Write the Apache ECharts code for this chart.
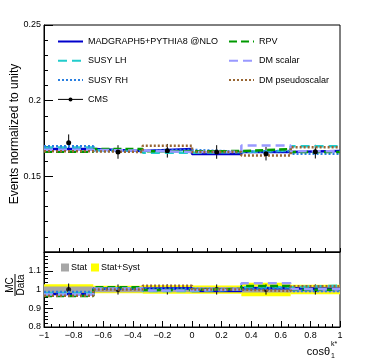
<!DOCTYPE html>
<html><head><meta charset="utf-8">
<script src="https://cdn.jsdelivr.net/npm/echarts@6/dist/echarts.min.js"></script>
<style>html,body{margin:0;padding:0;background:#fff}#c{width:370px;height:360px}</style>
</head><body><div id="c"></div>
<script>
// ---- data ----
const binEdges = [-1, -2/3, -1/3, 0, 1/3, 2/3, 1];
const binCenters = [-5/6, -0.5, -1/6, 1/6, 0.5, 5/6];
const cmsValues = [0.1722, 0.1661, 0.1669, 0.1661, 0.1650, 0.1663];
const cmsErrors = [0.0055, 0.0045, 0.0045, 0.0045, 0.0045, 0.0045];
const madgraph = [0.1680, 0.1668, 0.1680, 0.1647, 0.1661, 0.1668];
const susyLH = [0.1690, 0.1672, 0.1656, 0.1660, 0.1670, 0.1698];
const susyRH = [0.1698, 0.1668, 0.1675, 0.1662, 0.1668, 0.1649];
const rpv = [0.1663, 0.1680, 0.1665, 0.1667, 0.1680, 0.1660];
const dmScalar = [0.1675, 0.1670, 0.1660, 0.1662, 0.1704, 0.1665];
const dmPseudo = [0.1665, 0.1661, 0.1702, 0.1660, 0.1637, 0.1692];
const statBand = [0.016, 0.014, 0.014, 0.013, 0.016, 0.015];
const statSystBand = [0.028, 0.020, 0.023, 0.022, 0.036, 0.025];
const mcNames = ['MADGRAPH5+PYTHIA8 @NLO', 'SUSY LH', 'SUSY RH', 'RPV', 'DM scalar', 'DM pseudoscalar'];

// ---- styles ----
const mcDefs = [
  {name: mcNames[0], vals: madgraph, color: '#0000cc', type: 'solid', width: 2.5},
  {name: mcNames[1], vals: susyLH, color: '#22cccc', type: [9, 5], width: 2.5},
  {name: mcNames[2], vals: susyRH, color: '#2a7fe0', type: [2, 2], width: 2.5},
  {name: mcNames[3], vals: rpv, color: '#009900', type: [8, 4], width: 2.5},
  {name: mcNames[4], vals: dmScalar, color: '#9999ff', type: [9, 5], width: 2.5},
  {name: mcNames[5], vals: dmPseudo, color: '#996633', type: [2, 2], width: 2.5}
];
const FONT = 'Liberation Sans, Arial, Helvetica, sans-serif';

function stepData(vals) {
  return vals.map((v, i) => [binEdges[i], v]).concat([[binEdges[6], vals[vals.length - 1]]]);
}

const series = [];
function bandSeries(name, band, color) {
  return {
    name: name, type: 'custom', xAxisIndex: 1, yAxisIndex: 1,
    itemStyle: {color: color},
    data: band.map((b, i) => [binCenters[i], b, i]),
    renderItem: function (params, api) {
      const i = api.value(2), b = api.value(1);
      const p0 = api.coord([binEdges[i], 1 + b]);
      const p1 = api.coord([binEdges[i + 1], 1 - b]);
      return {type: 'rect', shape: {x: p0[0], y: p0[1], width: p1[0] - p0[0], height: p1[1] - p0[1]},
        style: {fill: color}};
    }
  };
}
series.push(bandSeries('Stat+Syst', statSystBand, '#ffff00'));
series.push(bandSeries('Stat', statBand, '#a6a6a6'));

mcDefs.forEach(d => {
  series.push({
    name: d.name, type: 'line', step: 'end', xAxisIndex: 0, yAxisIndex: 0,
    symbol: 'none', color: d.color,
    lineStyle: {color: d.color, type: d.type, width: d.width},
    data: stepData(d.vals), silent: true
  });
  series.push({
    name: 'ratio ' + d.name, type: 'line', step: 'end', xAxisIndex: 1, yAxisIndex: 1,
    symbol: 'none', color: d.color,
    lineStyle: {color: d.color, type: d.type, width: d.width},
    data: stepData(d.vals.map((v, i) => v / cmsValues[i])), silent: true
  });
});

function errSeries(xi, yi, vals, errs) {
  return {
    name: 'err' + xi, type: 'custom', xAxisIndex: xi, yAxisIndex: yi, silent: true,
    data: vals.map((v, i) => [binCenters[i], v, errs[i]]),
    renderItem: function (params, api) {
      const x = api.value(0), y = api.value(1), e = api.value(2);
      const a = api.coord([x, y - e]), b = api.coord([x, y + e]);
      return {type: 'line', shape: {x1: a[0], y1: a[1], x2: b[0], y2: b[1]}, style: {stroke: '#000', lineWidth: 1}};
    }
  };
}
series.push(errSeries(0, 0, cmsValues, cmsErrors));
series.push({
  name: 'CMS', type: 'line', xAxisIndex: 0, yAxisIndex: 0,
  symbol: 'circle', symbolSize: 5, color: '#000',
  itemStyle: {color: '#000'},
  lineStyle: {width: 0, opacity: 0},
  data: cmsValues.map((v, i) => [binCenters[i], v])
});
series.push(errSeries(1, 1, cmsValues.map(() => 1), cmsErrors.map((e, i) => e / cmsValues[i])));
series.push({
  name: 'CMS ratio', type: 'scatter', xAxisIndex: 1, yAxisIndex: 1,
  symbol: 'circle', symbolSize: 5, itemStyle: {color: '#000'},
  data: cmsValues.map((v, i) => [binCenters[i], 1])
});

const axisLineStyle = {show: true, onZero: false, lineStyle: {color: '#000', width: 1}};
function fmtX(v) { return String(+v.toFixed(1)).replace('-', '\u2212'); }

const option = {
  animation: false,
  backgroundColor: '#fff',
  grid: [
    {left: 44, top: 25, width: 296, height: 227, show: true, borderColor: '#000', borderWidth: 1, backgroundColor: 'transparent'},
    {left: 44, top: 252, width: 296, height: 75, show: true, borderColor: '#000', borderWidth: 1, backgroundColor: 'transparent'}
  ],
  xAxis: [
    {type: 'value', gridIndex: 0, min: -1, max: 1, interval: 0.2, axisLine: axisLineStyle, splitLine: {show: false},
      axisLabel: {show: false},
      axisTick: {inside: true, length: 4, lineStyle: {color: '#000'}},
      minorTick: {show: true, splitNumber: 2, length: 4, lineStyle: {color: '#000'}}},
    {type: 'value', gridIndex: 1, min: -1, max: 1, interval: 0.2, axisLine: axisLineStyle, splitLine: {show: false},
      axisLabel: {color: '#000', fontSize: 9, fontFamily: FONT, margin: 4, formatter: fmtX},
      axisTick: {inside: true, length: 6, lineStyle: {color: '#000'}},
      minorTick: {show: true, splitNumber: 4, length: 3, lineStyle: {color: '#000'}}}
  ],
  yAxis: [
    {type: 'value', gridIndex: 0, min: 0.1, max: 0.25, interval: 0.05, axisLine: axisLineStyle, splitLine: {show: false},
      axisLabel: {color: '#000', fontSize: 9, fontFamily: FONT, margin: 3,
        formatter: v => (Math.abs(v - 0.1) < 1e-9 ? '' : String(+v.toFixed(2)))},
      axisTick: {inside: true, length: 9, lineStyle: {color: '#000'}},
      minorTick: {show: true, splitNumber: 5, length: 4, lineStyle: {color: '#000'}}},
    {type: 'value', gridIndex: 1, min: 0.8, max: 1.2, interval: 0.1, axisLine: axisLineStyle, splitLine: {show: false},
      axisLabel: {color: '#000', fontSize: 9, fontFamily: FONT, margin: 3,
        formatter: v => (Math.abs(v - 1.2) < 1e-9 ? '' : String(+v.toFixed(1)))},
      axisTick: {inside: true, length: 9, lineStyle: {color: '#000'}},
      minorTick: {show: true, splitNumber: 5, length: 4, lineStyle: {color: '#000'}}}
  ],
  legend: [
    {left: 52, top: 32, orient: 'vertical', itemWidth: 25, itemHeight: 5, itemGap: 10.3,
      itemStyle: {opacity: 0},
      textStyle: {fontSize: 9, fontFamily: FONT, color: '#000'},
      data: [mcNames[0], mcNames[1], mcNames[2],
        {name: 'CMS', itemStyle: {opacity: 1, color: '#000'}, lineStyle: {width: 1, opacity: 1, color: '#000', type: 'solid'}}]},
    {left: 223, top: 32, orient: 'vertical', itemWidth: 25, itemHeight: 5, itemGap: 10.3,
      itemStyle: {opacity: 0},
      textStyle: {fontSize: 9, fontFamily: FONT, color: '#000'},
      data: [mcNames[3], mcNames[4], mcNames[5]]},
    {left: 56, top: 258, orient: 'horizontal', itemWidth: 8, itemHeight: 8, itemGap: 4,
      textStyle: {fontSize: 9, fontFamily: FONT, color: '#000', padding: [0, 0, 0, -3]},
      data: [{name: 'Stat', icon: 'rect'}, {name: 'Stat+Syst', icon: 'rect'}]}
  ],
  graphic: [
    {type: 'text', x: 15, y: 134, rotation: Math.PI / 2,
      style: {text: 'Events normalized to unity', fontSize: 12, fontFamily: FONT, fill: '#000', align: 'center', verticalAlign: 'middle'}},
    {type: 'group', x: 15, y: 285, rotation: Math.PI / 2, children: [
      {type: 'text', x: 0, y: -5, style: {text: 'MC', fontSize: 10, fontFamily: FONT, fill: '#000', align: 'center', verticalAlign: 'middle'}},
      {type: 'line', shape: {x1: -11, y1: 0, x2: 11, y2: 0}, style: {stroke: '#000', lineWidth: 1}},
      {type: 'text', x: 0, y: 6, style: {text: 'Data', fontSize: 10, fontFamily: FONT, fill: '#000', align: 'center', verticalAlign: 'middle'}}
    ]},
    {type: 'text', x: 330, y: 352, style: {text: 'cos\u03b8', fontSize: 11, fontFamily: FONT, fill: '#000', align: 'right', verticalAlign: 'middle'}},
    {type: 'text', x: 331, y: 344, style: {text: 'k*', fontSize: 7, fontFamily: FONT, fill: '#000', align: 'left', verticalAlign: 'middle'}},
    {type: 'text', x: 331, y: 356, style: {text: '1', fontSize: 7, fontFamily: FONT, fill: '#000', align: 'left', verticalAlign: 'middle'}}
  ],
  series: series
};
echarts.init(document.getElementById('c'), null, {renderer: 'canvas'}).setOption(option);
</script>
</body></html>
